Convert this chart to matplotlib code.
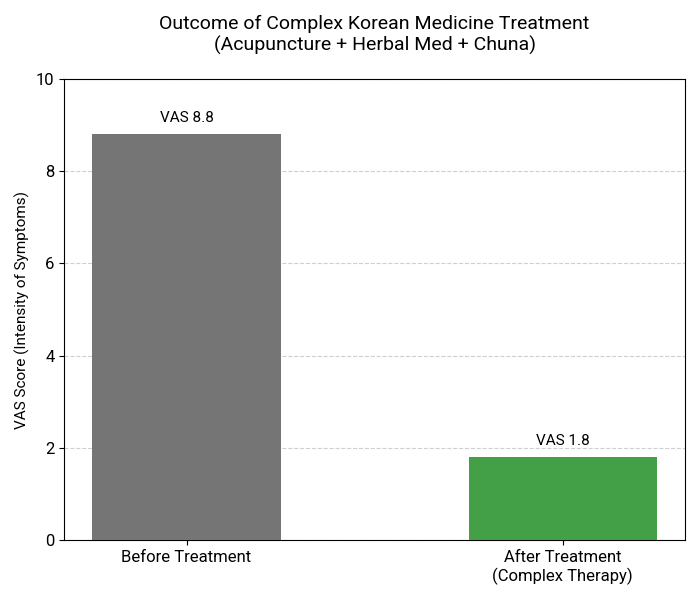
import matplotlib
matplotlib.use("Agg")
import matplotlib.pyplot as plt

plt.rcParams['font.family'] = ['Roboto', 'DejaVu Sans']

# 데이터
categories = ['Before Treatment', 'After Treatment\n(Complex Therapy)']
vas_scores = [8.8, 1.8]
colors = ['#757575', '#43A047']

fig, ax = plt.subplots(figsize=(7, 6), dpi=100)

bars = ax.bar(categories, vas_scores, color=colors, width=0.5, zorder=3)

# 막대 위 값 표시
for bar, v in zip(bars, vas_scores):
    ax.text(bar.get_x() + bar.get_width() / 2, v + 0.2, f'VAS {v}',
            ha='center', va='bottom', fontsize=11)

ax.set_ylim(0, 10)
ax.set_ylabel('VAS Score (Intensity of Symptoms)', fontsize=11)
ax.set_title('Outcome of Complex Korean Medicine Treatment\n(Acupuncture + Herbal Med + Chuna)',
             fontsize=14, pad=20)
ax.tick_params(axis='x', labelsize=12)
ax.tick_params(axis='y', labelsize=12)
ax.yaxis.grid(True, linestyle='--', alpha=0.6, zorder=0)

plt.tight_layout()
plt.savefig('out.png')
